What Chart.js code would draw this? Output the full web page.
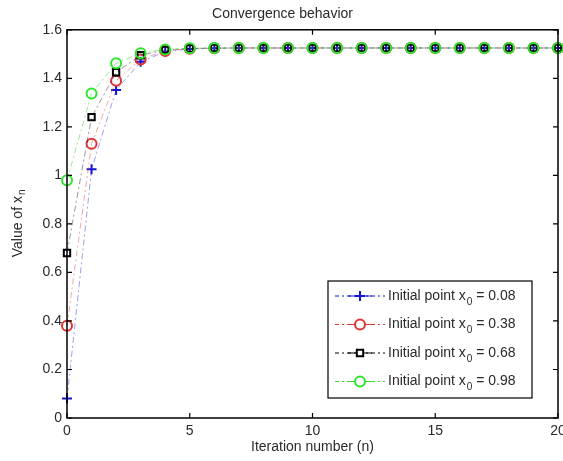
<!DOCTYPE html>
<html lang="en">
<head>
    <meta charset="UTF-8">
    <title>Convergence behavior</title>
    <script src="https://cdn.jsdelivr.net/npm/chart.js"></script>
    <style>
        html, body {
            margin: 0;
            padding: 0;
            background: white;
            overflow: hidden;
        }
        /* a little wider than the window so the last x label gets cut, as in the original */
        .chart-box {
            position: relative;
            width: 565px;
            height: 461px;
        }
    </style>
</head>
<body>
    <div class="chart-box">
        <canvas id="convChart"></canvas>
    </div>

    <script>
        // Iteration index n
        const iterations = [0, 1, 2, 3, 4, 5, 6, 7, 8, 9, 10, 11, 12, 13, 14, 15, 16, 17, 18, 19, 20];

        // x_n for each starting point
        const seriesA = [0.08, 1.025, 1.352, 1.468, 1.510, 1.521, 1.524, 1.525, 1.525, 1.525, 1.525,
                         1.525, 1.525, 1.525, 1.525, 1.525, 1.525, 1.525, 1.525, 1.525, 1.525];
        const seriesB = [0.38, 1.130, 1.390, 1.478, 1.513, 1.522, 1.524, 1.525, 1.525, 1.525, 1.525,
                         1.525, 1.525, 1.525, 1.525, 1.525, 1.525, 1.525, 1.525, 1.525, 1.525];
        const seriesC = [0.68, 1.240, 1.425, 1.495, 1.517, 1.523, 1.525, 1.525, 1.525, 1.525, 1.525,
                         1.525, 1.525, 1.525, 1.525, 1.525, 1.525, 1.525, 1.525, 1.525, 1.525];
        const seriesD = [0.98, 1.337, 1.462, 1.503, 1.519, 1.524, 1.525, 1.525, 1.525, 1.525, 1.525,
                         1.525, 1.525, 1.525, 1.525, 1.525, 1.525, 1.525, 1.525, 1.525, 1.525];

        const startPoints = ['0.08', '0.38', '0.68', '0.98'];
        const xTicks = [0, 5, 10, 15, 20];
        const yTicks = [0, 0.2, 0.4, 0.6, 0.8, 1, 1.2, 1.4, 1.6];

        const FONT = 'Liberation Sans, Arial, sans-serif';
        const INK = '#2a2a2a';

        function toPoints(values) {
            return iterations.map((n, i) => ({ x: n, y: values[i] }));
        }

        function makeSet(values, idx, color, lineColor, style) {
            return {
                label: 'Initial point x',
                sub: '0',
                tail: ' = ' + startPoints[idx],
                data: toPoints(values),
                order: 3 - idx,          // later series drawn on top, like the original
                borderColor: lineColor,
                markerColor: color,
                pointBorderColor: color,
                pointBackgroundColor: 'rgba(0,0,0,0)',
                pointStyle: style,
                pointRadius: style === 'rect' ? 4.5 : 5,
                pointBorderWidth: 2,
                borderWidth: 1,
                borderDash: [6, 3, 2, 3],
                tension: 0,
                clip: false
            };
        }

        // frame with inward ticks on all four sides
        const framePlugin = {
            id: 'frame',
            afterDraw(chart) {
                const { ctx, chartArea: a, scales } = chart;
                ctx.save();
                ctx.strokeStyle = '#000';
                ctx.lineWidth = 1.5;
                ctx.strokeRect(a.left, a.top, a.right - a.left, a.bottom - a.top);
                ctx.lineWidth = 1.2;
                ctx.beginPath();
                scales.x.ticks.forEach(t => {
                    const px = scales.x.getPixelForValue(t.value);
                    ctx.moveTo(px, a.bottom); ctx.lineTo(px, a.bottom - 5);
                    ctx.moveTo(px, a.top); ctx.lineTo(px, a.top + 5);
                });
                scales.y.ticks.forEach(t => {
                    const py = scales.y.getPixelForValue(t.value);
                    ctx.moveTo(a.left, py); ctx.lineTo(a.left + 5, py);
                    ctx.moveTo(a.right, py); ctx.lineTo(a.right - 5, py);
                });
                ctx.stroke();

                // y axis title with subscript
                ctx.fillStyle = INK;
                ctx.translate(18, (a.top + a.bottom) / 2);
                ctx.rotate(-Math.PI / 2);
                ctx.textBaseline = 'middle';
                const main = 'Value of x';
                ctx.font = '10px ' + FONT;
                const wSub = ctx.measureText('n').width;
                ctx.font = '14px ' + FONT;
                const wMain = ctx.measureText(main).width;
                const x0 = -(wMain + wSub) / 2;
                ctx.textAlign = 'left';
                ctx.fillText(main, x0, 0);
                ctx.font = '10px ' + FONT;
                ctx.fillText('n', x0 + wMain + 1, 4);
                ctx.restore();
            }
        };

        // legend box in the lower right corner of the plot
        const boxLegend = {
            id: 'boxLegend',
            afterDraw(chart) {
                const { ctx, chartArea: a } = chart;
                const sets = chart.data.datasets;
                const right = a.right - 26, bottom = a.bottom - 20;
                const w = 204, h = 117;
                const left = right - w, top = bottom - h;
                ctx.save();
                ctx.fillStyle = 'white';
                ctx.fillRect(left, top, w, h);
                ctx.strokeStyle = '#000';
                ctx.lineWidth = 1.2;
                ctx.strokeRect(left, top, w, h);
                sets.forEach((ds, i) => {
                    const y = top + 15 + i * 28.5;
                    ctx.strokeStyle = ds.markerColor;
                    ctx.lineWidth = 1;
                    ctx.setLineDash([4, 3, 2, 3]);
                    ctx.beginPath();
                    ctx.moveTo(left + 7, y);
                    ctx.lineTo(left + 57, y);
                    ctx.stroke();
                    ctx.setLineDash([]);
                    ctx.beginPath();
                    ctx.moveTo(left + 20, y);
                    ctx.lineTo(left + 44, y);
                    ctx.stroke();
                    ctx.strokeStyle = ds.markerColor;
                    ctx.fillStyle = 'white';
                    ctx.lineWidth = 2;
                    Chart.helpers.drawPoint(ctx, {
                        pointStyle: ds.pointStyle,
                        radius: ds.pointRadius,
                        rotation: 0,
                        borderWidth: 2
                    }, left + 32, y);
                    ctx.fillStyle = INK;
                    ctx.textBaseline = 'middle';
                    ctx.textAlign = 'left';
                    ctx.font = '14px ' + FONT;
                    let tx = left + 60;
                    ctx.fillText(ds.label, tx, y);
                    tx += ctx.measureText(ds.label).width + 1;
                    ctx.font = '10px ' + FONT;
                    ctx.fillText(ds.sub, tx, y + 6);
                    tx += ctx.measureText(ds.sub).width;
                    ctx.font = '14px ' + FONT;
                    ctx.fillText(ds.tail, tx, y);
                });
                ctx.restore();
            }
        };

        new Chart(document.getElementById('convChart'), {
            type: 'line',
            data: {
                datasets: [
                    makeSet(seriesA, 0, '#1414d2', 'rgba(40,40,220,0.45)', 'cross'),
                    makeSet(seriesB, 1, '#e03434', 'rgba(230,60,60,0.45)', 'circle'),
                    makeSet(seriesC, 2, '#000000', 'rgba(0,0,0,0.4)', 'rect'),
                    makeSet(seriesD, 3, '#2ee62e', 'rgba(40,220,40,0.5)', 'circle')
                ]
            },
            options: {
                responsive: true,
                maintainAspectRatio: false,
                animation: false,
                layout: { padding: { top: 0, right: 0, bottom: 5, left: 0 } },
                plugins: {
                    legend: { display: false },
                    tooltip: { enabled: false },
                    title: {
                        display: true,
                        text: 'Convergence behavior',
                        color: INK,
                        font: { family: FONT, size: 14, weight: 'normal' },
                        padding: { top: 6, bottom: 7 }
                    }
                },
                scales: {
                    x: {
                        type: 'linear',
                        min: 0,
                        max: 20,
                        afterBuildTicks: s => { s.ticks = xTicks.map(v => ({ value: v })); },
                        afterFit: s => { s.height = 38; s.paddingRight = 0; },
                        grid: { drawOnChartArea: false, drawTicks: false },
                        border: { display: false },
                        ticks: { color: INK, padding: 5, font: { family: FONT, size: 14 } },
                        title: {
                            display: true,
                            text: 'Iteration number (n)',
                            color: INK,
                            font: { family: FONT, size: 14 },
                            padding: 0
                        }
                    },
                    y: {
                        min: 0,
                        max: 1.6,
                        afterBuildTicks: s => { s.ticks = yTicks.map(v => ({ value: v })); },
                        afterFit: s => { s.width = 67; },
                        grid: { drawOnChartArea: false, drawTicks: false },
                        border: { display: false },
                        ticks: {
                            color: INK,
                            padding: 5,
                            font: { family: FONT, size: 14 },
                            callback: v => String(Math.round(v * 10) / 10)
                        }
                    }
                }
            },
            plugins: [framePlugin, boxLegend]
        });
    </script>
</body>
</html>
